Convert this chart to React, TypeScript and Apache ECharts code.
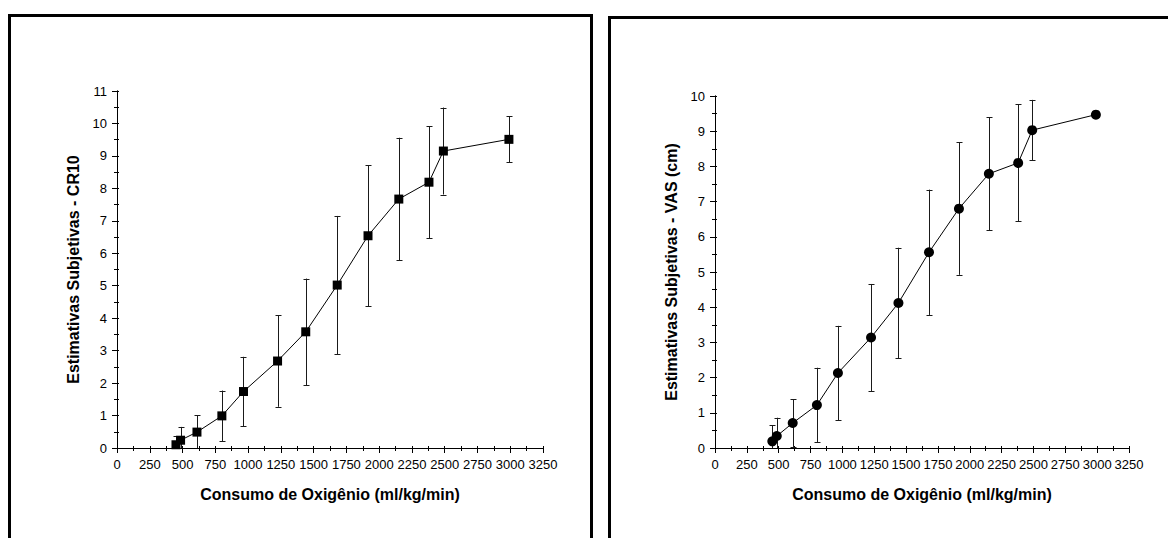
import React, { useEffect, useRef } from "react";
import * as echarts from "echarts";

// Oxygen consumption (ml/kg/min) – same stages in both panels
const oxygen = [450, 485, 610, 800, 965, 1225, 1440, 1680, 1915, 2150, 2380, 2490, 2990];

// Left panel: CR10 mean and SD
const cr10Mean = [0.1, 0.24, 0.49, 0.99, 1.74, 2.68, 3.58, 5.02, 6.54, 7.67, 8.19, 9.15, 9.51];
const cr10Err = [0.26, 0.41, 0.52, 0.78, 1.07, 1.41, 1.64, 2.13, 2.17, 1.89, 1.72, 1.34, 0.71];

// Right panel: VAS (cm) mean and SD
const vasMean = [0.19, 0.34, 0.71, 1.22, 2.13, 3.14, 4.12, 5.56, 6.8, 7.79, 8.1, 9.03, 9.47];
const vasErr = [0.45, 0.52, 0.68, 1.06, 1.34, 1.52, 1.57, 1.78, 1.88, 1.6, 1.66, 0.86, 0.07];

const xTitle = "Consumo de Oxigênio (ml/kg/min)";
const yTitleLeft = "Estimativas Subjetivas - CR10";
const yTitleRight = "Estimativas Subjetivas - VAS (cm)";

const FONT = "'Liberation Sans', Arial, Helvetica, sans-serif";

function errorRender(params: any, api: any) {
  const x = api.value(0);
  const m = api.value(1);
  const e = api.value(2);
  const lo = Math.max(0, m - e);
  const hi = m + e;
  const pHi = api.coord([x, hi]);
  const pLo = api.coord([x, lo]);
  const px = Math.round(pHi[0]) + 0.5;
  const style = { stroke: "#1a1a1a", lineWidth: 1 };
  const children: any[] = [
    { type: "line", shape: { x1: px, y1: pHi[1], x2: px, y2: pLo[1] }, style },
    { type: "line", shape: { x1: px - 3, y1: Math.round(pHi[1]) + 0.5, x2: px + 3, y2: Math.round(pHi[1]) + 0.5 }, style },
  ];
  if (m - e >= 0) {
    children.push({
      type: "line",
      shape: { x1: px - 3, y1: Math.round(pLo[1]) + 0.5, x2: px + 3, y2: Math.round(pLo[1]) + 0.5 },
      style,
    });
  }
  return { type: "group", children };
}

const plain = (v: number) => String(v);

function bottomX(gridIndex: number) {
  return {
    type: "value",
    gridIndex,
    position: "bottom",
    min: 0,
    max: 3250,
    interval: 250,
    name: xTitle,
    nameLocation: "middle",
    nameGap: 38,
    nameTextStyle: { fontFamily: FONT, fontSize: 16, fontWeight: "bold", color: "#000" },
    axisLine: { show: true, lineStyle: { color: "#000", width: 1 } },
    axisTick: { show: true, length: 5, inside: false, lineStyle: { color: "#000" } },
    minorTick: { show: true, splitNumber: 2, length: 3, lineStyle: { color: "#000" } },
    axisLabel: { fontFamily: FONT, fontSize: 13, color: "#000", margin: 10, formatter: plain },
    splitLine: { show: false },
  };
}

function topX(gridIndex: number) {
  return {
    type: "value",
    gridIndex,
    position: "top",
    min: 0,
    max: 3250,
    interval: 250,
    axisLine: { show: true, lineStyle: { color: "#000", width: 1 } },
    axisTick: { show: true, length: 2, lineStyle: { color: "#000" } },
    minorTick: { show: true, splitNumber: 2, length: 2, lineStyle: { color: "#000" } },
    axisLabel: { show: false },
    splitLine: { show: false },
  };
}

function leftY(gridIndex: number, max: number, title: string) {
  return {
    type: "value",
    gridIndex,
    position: "left",
    min: 0,
    max,
    interval: 1,
    name: title,
    nameLocation: "middle",
    nameRotate: 90,
    nameGap: 36,
    nameTextStyle: { fontFamily: FONT, fontSize: 16, fontWeight: "bold", color: "#000" },
    axisLine: { show: true, lineStyle: { color: "#000", width: 1 } },
    axisTick: { show: true, length: 5, lineStyle: { color: "#000" } },
    minorTick: { show: true, splitNumber: 2, length: 3, lineStyle: { color: "#000" } },
    axisLabel: { fontFamily: FONT, fontSize: 13, color: "#000", margin: 10, formatter: plain },
    splitLine: { show: false },
  };
}

function rightY(gridIndex: number, max: number) {
  return {
    type: "value",
    gridIndex,
    position: "right",
    min: 0,
    max,
    interval: 1,
    axisLine: { show: true, lineStyle: { color: "#000", width: 1 } },
    axisTick: { show: true, length: 2, lineStyle: { color: "#000" } },
    minorTick: { show: true, splitNumber: 2, length: 2, lineStyle: { color: "#000" } },
    axisLabel: { show: false },
    splitLine: { show: false },
  };
}

export default function App() {
  const ref = useRef<HTMLDivElement>(null);

  useEffect(() => {
    if (!ref.current) return;
    const chart = echarts.init(ref.current, undefined, { renderer: "svg" });

    const leftLine = oxygen.map((x, i) => [x, cr10Mean[i]]);
    const rightLine = oxygen.map((x, i) => [x, vasMean[i]]);
    const leftErr = oxygen.map((x, i) => [x, cr10Mean[i], cr10Err[i]]);
    const rightErr = oxygen.map((x, i) => [x, vasMean[i], vasErr[i]]);

    chart.setOption({
      animation: false,
      backgroundColor: "#fff",
      textStyle: { fontFamily: FONT },
      grid: [
        { left: 117, top: 91, width: 426, height: 357 },
        { left: 715, top: 96, width: 414, height: 352 },
      ],
      xAxis: [bottomX(0), topX(0), bottomX(1), topX(1)],
      yAxis: [leftY(0, 11, yTitleLeft), rightY(0, 11), leftY(1, 10, yTitleRight), rightY(1, 10)],
      series: [
        {
          type: "custom",
          xAxisIndex: 0,
          yAxisIndex: 0,
          renderItem: errorRender,
          data: leftErr,
          z: 1,
        },
        {
          type: "line",
          xAxisIndex: 0,
          yAxisIndex: 0,
          data: leftLine,
          symbol: "rect",
          symbolSize: 9,
          itemStyle: { color: "#000" },
          lineStyle: { color: "#000", width: 1 },
          z: 3,
        },
        {
          type: "custom",
          xAxisIndex: 2,
          yAxisIndex: 2,
          renderItem: errorRender,
          data: rightErr,
          z: 1,
        },
        {
          type: "line",
          xAxisIndex: 2,
          yAxisIndex: 2,
          data: rightLine,
          symbol: "circle",
          symbolSize: 10,
          itemStyle: { color: "#000" },
          lineStyle: { color: "#000", width: 1 },
          z: 3,
        },
      ],
      graphic: [
        {
          type: "rect",
          shape: { x: 9.5, y: 15.5, width: 582, height: 580 },
          style: { fill: "none", stroke: "#000", lineWidth: 3 },
          silent: true,
        },
        {
          type: "rect",
          shape: { x: 609.5, y: 17.5, width: 600, height: 580 },
          style: { fill: "none", stroke: "#000", lineWidth: 3 },
          silent: true,
        },
      ],
    });

    return () => chart.dispose();
  }, []);

  return (
    <div
      ref={ref}
      style={{ position: "fixed", left: 0, top: 0, width: 1168, height: 538, background: "#fff" }}
    />
  );
}
